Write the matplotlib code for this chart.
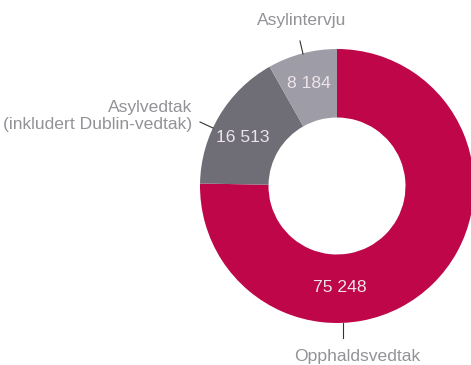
import matplotlib.pyplot as plt

# Vedtak og intervju
categories = ['Opphaldsvedtak', 'Asylvedtak\n(inkludert Dublin-vedtak)', 'Asylintervju']
values = [75248, 16513, 8184]
value_labels = ['75 248', '16 513', '8 184']
colors = ['#BE0649', '#6F6E77', '#9E9CA6']

plt.rcParams['font.family'] = ['Liberation Sans', 'DejaVu Sans']

W, H = 471, 365
fig = plt.figure(figsize=(W / 100, H / 100), dpi=100)
ax = fig.add_axes([0, 0, 1, 1])

cx, cy, r = 337, H - 186, 137
ax.pie(values, colors=colors, startangle=90, counterclock=False,
       center=(cx, cy), radius=r,
       wedgeprops=dict(width=r * 0.5, linewidth=0))
ax.set_xlim(0, W)
ax.set_ylim(0, H)
ax.set_aspect('equal')
ax.axis('off')

fs = 12.6
# verdiane inne i ringen
val_pos = [(340, 287), (243, 138), (309, 83)]
for txt, (x, y) in zip(value_labels, val_pos):
    ax.text(x, H - y, txt, ha='center', va='center', color='#EDE3E8',
            fontsize=fs)

lab_color = '#929297'
# Asylintervju
ax.text(302, H - 21, categories[2], ha='center', va='center', color=lab_color,
        fontsize=fs)
ax.plot([300, 303], [H - 41, H - 54], color='#333333', lw=0.8)
# Asylvedtak
ax.text(192, H - 116, categories[1], ha='right', va='center', color=lab_color,
        fontsize=fs, linespacing=1.15, multialignment='right')
ax.plot([200, 213], [H - 122, H - 128], color='#333333', lw=0.8)
# Opphaldsvedtak
ax.text(357, H - 356, categories[0], ha='center', va='center', color=lab_color,
        fontsize=fs)
ax.plot([343, 343], [H - 323, H - 338], color='#333333', lw=0.8)

fig.savefig('out.png', dpi=100)
